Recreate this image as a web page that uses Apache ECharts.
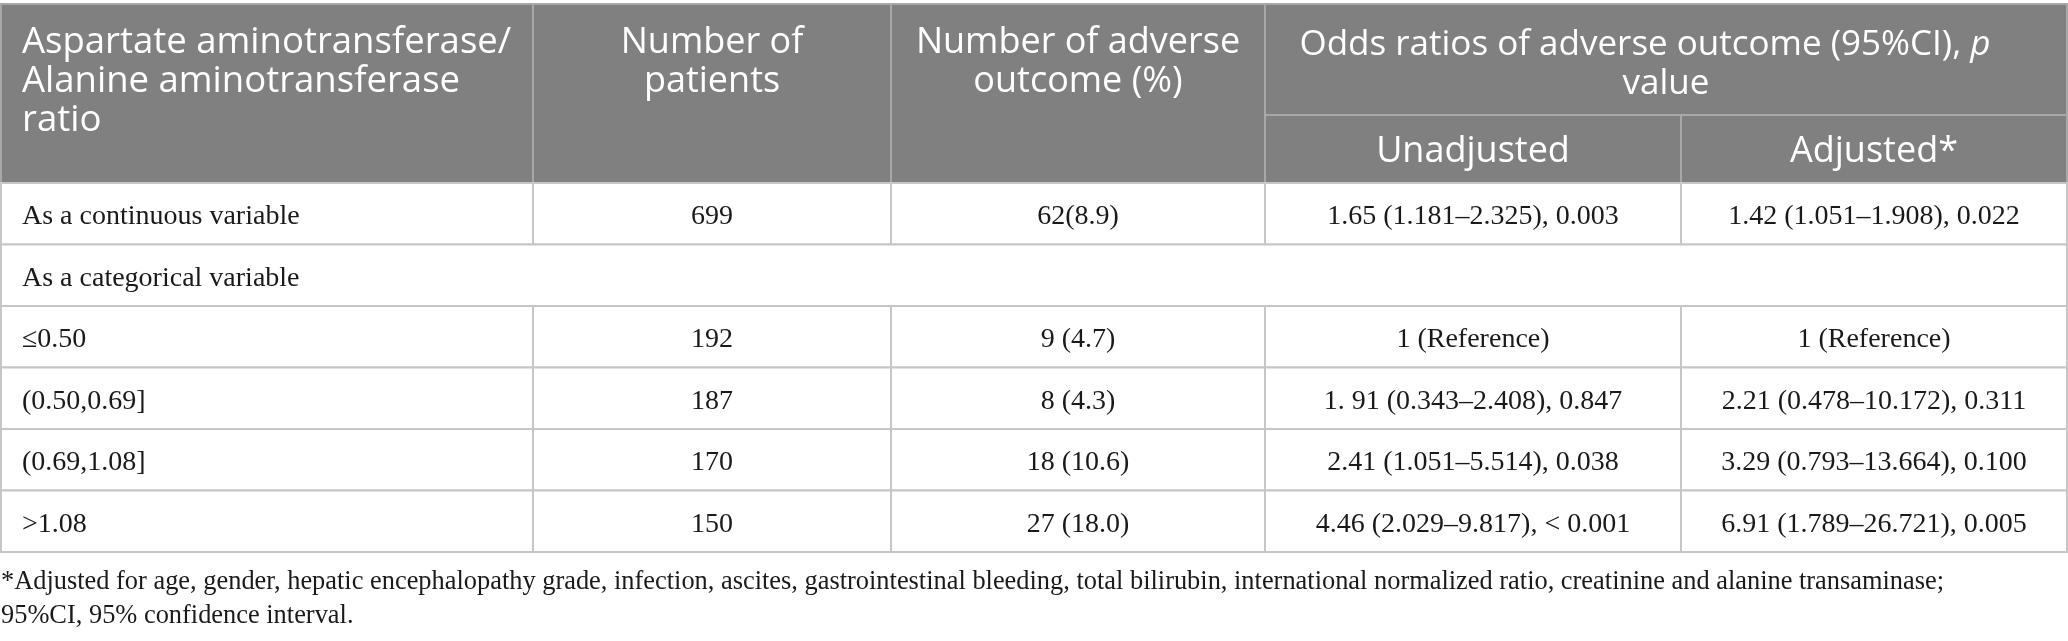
<!DOCTYPE html>
<html>
<head>
<meta charset="utf-8">
<script src="https://cdn.jsdelivr.net/npm/echarts@6/dist/echarts.min.js"></script>
<style>
html,body{margin:0;padding:0;background:#fff;}
#chart{width:2068px;height:641px;}
</style>
</head>
<body>
<div id="chart"></div>
<script>
// ---- table content ----
const headerLabels = [
  'Aspartate aminotransferase/\nAlanine aminotransferase\nratio',
  'Number of\npatients',
  'Number of adverse\noutcome (%)'
];
const oddsHeader = 'Odds ratios of adverse outcome (95%CI), {i|p}{gap|\u00a0}\nvalue';
const subHeaders = ['Unadjusted', 'Adjusted*'];
const rowLabels = ['As a continuous variable', 'As a categorical variable', '\u22640.50', '(0.50,0.69]', '(0.69,1.08]', '>1.08'];
const patients = ['699', '', '192', '187', '170', '150'];
const adverseOutcomes = ['62(8.9)', '', '9 (4.7)', '8 (4.3)', '18 (10.6)', '27 (18.0)'];
const unadjustedOR = ['1.65 (1.181\u20132.325), 0.003', '', '1 (Reference)', '1. 91 (0.343\u20132.408), 0.847', '2.41 (1.051\u20135.514), 0.038', '4.46 (2.029\u20139.817), < 0.001'];
const adjustedOR = ['1.42 (1.051\u20131.908), 0.022', '', '1 (Reference)', '2.21 (0.478\u201310.172), 0.311', '3.29 (0.793\u201313.664), 0.100', '6.91 (1.789\u201326.721), 0.005'];
const footnoteLines = [
  '*Adjusted for age, gender, hepatic encephalopathy grade, infection, ascites, gastrointestinal bleeding, total bilirubin, international normalized ratio, creatinine and alanine transaminase;',
  '95%CI, 95% confidence interval.'
];

// ---- layout (pixel space of the hidden axes) ----
const E = [1, 533, 891, 1265, 1681, 2067];
const Y_TOP = 4, Y_SPLIT = 115, Y_HEAD = 183, ROW_H = 61.5;
const HEAD_FILL = '#808080', HEAD_LINE = '#a8a8a8', BODY_LINE = '#c6c6c6';
const HEAD_FONT = '"Open Sans", "Noto Sans", sans-serif';
const BODY_FONT = '"Liberation Serif", "DejaVu Serif", serif';
const HEAD_SIZE = 36, HEAD_LH = 39, HEAD_DY = 2.5;
const BODY_SIZE = 28, BODY_DY = 3, PAD = 21;

const cells = [];
function cell(x0, x1, y0, y1, text, opt) {
  cells.push(Object.assign({x0, x1, y0, y1, text}, opt));
}
// header
cell(E[0], E[1], Y_TOP, Y_HEAD, headerLabels[0], {head: true, align: 'left', ty: 79, fs: 36.5});
cell(E[1], E[2], Y_TOP, Y_HEAD, headerLabels[1], {head: true, align: 'center', ty: 60});
cell(E[2], E[3], Y_TOP, Y_HEAD, headerLabels[2], {head: true, align: 'center', ty: 60});
cell(E[3], E[5], Y_TOP, Y_SPLIT, oddsHeader, {head: true, align: 'center', ty: 62.5, fs: 35});
cell(E[3], E[4], Y_SPLIT, Y_HEAD, subHeaders[0], {head: true, align: 'center'});
cell(E[4], E[5], Y_SPLIT, Y_HEAD, subHeaders[1], {head: true, align: 'center'});
// body
rowLabels.forEach((lab, r) => {
  const y0 = Y_HEAD + r * ROW_H, y1 = y0 + ROW_H;
  if (!patients[r]) {
    cell(E[0], E[5], y0, y1, lab, {align: 'left'});
    return;
  }
  cell(E[0], E[1], y0, y1, lab, {align: 'left'});
  cell(E[1], E[2], y0, y1, patients[r], {align: 'center'});
  cell(E[2], E[3], y0, y1, adverseOutcomes[r], {align: 'center'});
  cell(E[3], E[4], y0, y1, unadjustedOR[r], {align: 'center'});
  cell(E[4], E[5], y0, y1, adjustedOR[r], {align: 'center'});
});
// footnote
footnoteLines.forEach((t, i) => {
  cells.push({foot: true, x0: 1, y0: 582 + i * 34, text: t});
});

function renderItem(params, api) {
  const c = cells[params.dataIndex];
  if (c.foot) {
    const p = api.coord([c.x0, c.y0]);
    return {
      type: 'text', x: p[0], y: p[1],
      style: {text: c.text, fill: '#1a1a1a', fontFamily: BODY_FONT, fontSize: 26.4,
              align: 'left', verticalAlign: 'middle'}
    };
  }
  const p0 = api.coord([c.x0, c.y0]);
  const p1 = api.coord([c.x1, c.y1]);
  const w = p1[0] - p0[0], h = p1[1] - p0[1];
  let ty = c.ty != null ? api.coord([c.x0, c.ty])[1] : p0[1] + h / 2;
  ty += c.head ? HEAD_DY : BODY_DY;
  const tx = c.align === 'left' ? p0[0] + PAD : p0[0] + w / 2;
  const fs = c.fs || HEAD_SIZE;
  return {
    type: 'group',
    children: [
      {type: 'rect', shape: {x: p0[0], y: p0[1], width: w, height: h},
       style: {fill: c.head ? HEAD_FILL : '#ffffff', stroke: c.head ? HEAD_LINE : BODY_LINE, lineWidth: 2}},
      {type: 'text', x: tx, y: ty, z2: 10,
       style: c.head ? {
         text: c.text, fill: '#ffffff', fontFamily: HEAD_FONT, fontSize: fs, lineHeight: HEAD_LH,
         align: c.align, verticalAlign: 'middle',
         rich: {
           i: {fontStyle: 'italic', fill: '#ffffff', fontFamily: HEAD_FONT, fontSize: fs, lineHeight: HEAD_LH},
           gap: {width: 42, fontSize: fs, lineHeight: HEAD_LH, fill: '#ffffff'}
         }
       } : {
         text: c.text, fill: '#1a1a1a', fontFamily: BODY_FONT, fontSize: BODY_SIZE,
         align: c.align, verticalAlign: 'middle'
       }}
    ]
  };
}

const chart = echarts.init(document.getElementById('chart'), null, {renderer: 'canvas'});
chart.setOption({
  animation: false,
  grid: {left: 0, right: 0, top: 0, bottom: 0},
  xAxis: {type: 'value', min: 0, max: 2068, show: false},
  yAxis: {type: 'value', min: 0, max: 641, inverse: true, show: false},
  series: [{
    type: 'custom',
    silent: true,
    renderItem: renderItem,
    clip: false,
    data: cells.map((c, i) => [c.x0, c.y0, i])
  }]
});
</script>
</body>
</html>
